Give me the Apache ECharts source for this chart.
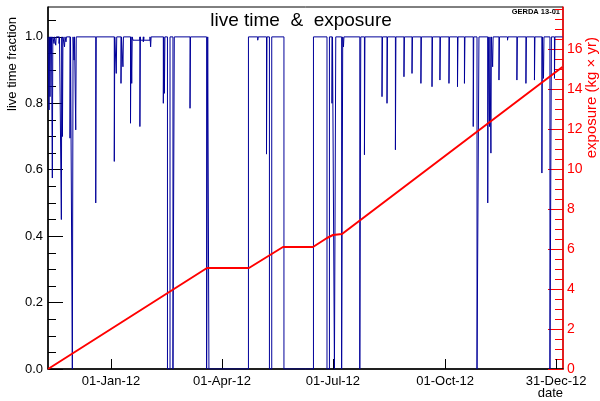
<!DOCTYPE html>
<html><head><meta charset="utf-8">
<script src="https://cdn.jsdelivr.net/npm/echarts@6/dist/echarts.min.js"></script>
<style>html,body{margin:0;padding:0;background:#fff}#c{width:600px;height:401px}</style>
</head><body><div id="c"></div>
<script>
// x values: days since 01-Jan-2012
const axisStartDay = -51.65, axisEndDay = 370.6;
const xTickDays = [0, 91, 182, 274, 365];
const xTickLabels = ['01-Jan-12', '01-Apr-12', '01-Jul-12', '01-Oct-12', '31-Dec-12'];
const liveTicks = [0, 0.2, 0.4, 0.6, 0.8, 1.0];
const exposureTicks = [0, 2, 4, 6, 8, 10, 12, 14, 16];

// live time fraction: 1 everywhere except these intervals
const runStart = -51.6, runEnd = 370.2;
const lowFrom  = [-50.8,-50.0,-49.2,-48.1,-46.7,-45.3,-42.6,-40.7,-39.8,-38.1,-36.9,-33.6,-31.7,-30.3,-28.9,-12.5, 2.7, 4.3, 8.2, 9.8,16.0,17.0,18.0,23.7,24.1,26.5,26.9,32.5,42.9,43.8,46.3,50.8,64.8,78.4, 80.3,120.3,127.5,129.9,141.8,177.1,181.2,183.2,189.1,190.6,204.0,207.8,222.2,226.3,233.2,240.2,246.8,254.1,263.2,269.7,277.1,284.1,289.8,297.0,300.1,308.9,310.3,311.5,312.9,318.1,325.1,332.8,340.2,347.2,353.3,354.6,359.9,363.6];
const lowTo    = [-50.4,-49.6,-48.8,-47.7,-46.3,-44.9,-42.2,-40.3,-39.4,-37.7,-36.5,-33.2,-31.1,-29.9,-28.5,-12.1, 3.1, 4.7, 8.6,10.2,16.4,17.4,23.7,24.1,26.5,26.9,32.0,32.9,43.3,44.2,48.4,51.9,65.2,79.3,112.7,120.7,127.9,131.8,166.0,179.1,181.6,184.3,190.0,191.0,204.8,208.2,222.6,226.7,233.6,240.6,247.2,254.5,263.6,270.1,277.5,284.5,290.2,297.4,301.7,309.3,310.7,311.9,313.3,318.5,325.5,333.2,340.6,347.6,353.7,355.0,361.1,364.0];
const lowValue = [0.78, 0.82, 0.95, 0.575,0.98, 0.975,0.98, 0.45, 0.70, 0.97, 0.985,0.695,0,   0.93, 0.72, 0.50, 0.625,0.89,0.86,0.91,0.74,0.86,0.99,0.73,0.99,0.985,0.99,0.97,0.80,0.83,0,   0,   0.785,0,   0,    0.99, 0.647,0,    0,    0,    0.80, 0,    0,    0.97, 0,    0.645,0.82, 0.80, 0.66, 0.88, 0.89, 0.86, 0.85, 0.87, 0.86, 0.85, 0.86, 0.73, 0,    0.50, 0.73, 0.65, 0.91, 0.87, 0.99, 0.87, 0.86, 0.87, 0.59, 0.875,0,    0.875];

// accumulated exposure (kg x yr)
const exposureDay   = [-51.6, 78.7, 113.1, 141.0, 165.6, 177.1, 182.0, 189.4, 370.1];
const exposureValue = [0, 5.05, 5.05, 6.1, 6.1, 6.55, 6.7, 6.75, 15.1];

const livePts = [[runStart, 1]];
for (let i = 0; i < lowFrom.length; i++) {
  livePts.push([lowFrom[i], 1], [lowFrom[i], lowValue[i]], [lowTo[i], lowValue[i]], [lowTo[i], 1]);
}
livePts.push([runEnd, 1]);
const expPts = exposureDay.map((d, i) => [d, exposureValue[i]]);

const liveMinor = []; for (let k = 0; k <= 21; k++) liveMinor.push(+(k * 0.05).toFixed(2));
const expMinor = []; for (let k = 0; k <= 36; k++) expMinor.push(k * 0.5);

const FF = 'Liberation Sans, Arial, sans-serif';
const chart = echarts.init(document.getElementById('c'), null, {renderer: 'canvas'});
chart.setOption({
  animation: false,
  grid: {left: 48, right: 37, top: 7, bottom: 32, show: true, borderColor: '#000', borderWidth: 1, containLabel: false},
  xAxis: {
    type: 'value', min: axisStartDay, max: axisEndDay,
    axisLine: {onZero: false, lineStyle: {color: '#000', width: 1.5}},
    axisTick: {inside: true, length: 10, customValues: xTickDays, lineStyle: {color: '#000'}},
    axisLabel: {customValues: xTickDays, margin: 6, fontSize: 13, fontFamily: FF, color: '#000',
      formatter: v => { const i = xTickDays.findIndex(t => Math.abs(t - v) < 0.01); return i >= 0 ? xTickLabels[i] : ''; }},
    splitLine: {show: false}
  },
  yAxis: [
    {type: 'value', position: 'left', min: 0, max: 1.09,
     axisLine: {show: true, onZero: false, lineStyle: {color: '#000', width: 1.5}},
     axisTick: {show: true, inside: true, length: 15, customValues: liveTicks, lineStyle: {color: '#000'}},
     axisLabel: {customValues: liveTicks, margin: 5, fontSize: 13, fontFamily: FF, color: '#000', formatter: v => v.toFixed(1)},
     splitLine: {show: false}},
    {type: 'value', position: 'left', min: 0, max: 1.09,
     axisLine: {show: false, onZero: false},
     axisTick: {show: true, inside: true, length: 8, customValues: liveMinor, lineStyle: {color: '#000'}},
     axisLabel: {show: false}, splitLine: {show: false}},
    {type: 'value', position: 'right', min: 0, max: 18.1,
     axisLine: {show: true, onZero: false, lineStyle: {color: '#ff0000', width: 1.5}},
     axisTick: {show: true, inside: true, length: 15, customValues: exposureTicks, lineStyle: {color: '#ff0000'}},
     axisLabel: {customValues: exposureTicks, margin: 4, fontSize: 14, fontFamily: FF, color: '#ff0000', formatter: v => String(Math.round(v))},
     splitLine: {show: false}},
    {type: 'value', position: 'right', min: 0, max: 18.1,
     axisLine: {show: false, onZero: false},
     axisTick: {show: true, inside: true, length: 8, customValues: expMinor, lineStyle: {color: '#ff0000'}},
     axisLabel: {show: false}, splitLine: {show: false}}
  ],
  series: [
    {type: 'line', name: 'live time', xAxisIndex: 0, yAxisIndex: 0, data: livePts, showSymbol: false, symbol: 'none',
     lineStyle: {color: '#000099', width: 1}, z: 2},
    {type: 'line', name: 'exposure', xAxisIndex: 0, yAxisIndex: 2, data: expPts, showSymbol: false, symbol: 'none',
     lineStyle: {color: '#ff0000', width: 2}, z: 3}
  ],
  graphic: [
    {type: 'text', x: 301, y: 21, style: {text: 'live time  &  exposure', fill: '#000', fontSize: 19, fontFamily: FF, align: 'center', verticalAlign: 'middle'}},
    {type: 'text', x: 560, y: 12, style: {text: 'GERDA 13-01', fill: '#000', fontSize: 7.5, fontWeight: 'bold', fontFamily: FF, align: 'right', verticalAlign: 'middle'}},
    {type: 'text', x: 12, y: 17, rotation: Math.PI / 2, style: {text: 'live time fraction', fill: '#000', fontSize: 13, fontFamily: FF, align: 'right', verticalAlign: 'middle'}},
    {type: 'text', x: 592, y: 37, rotation: Math.PI / 2, style: {text: 'exposure (kg \u00d7 yr)', fill: '#ff0000', fontSize: 15, fontFamily: FF, align: 'right', verticalAlign: 'middle'}},
    {type: 'text', x: 563, y: 393, style: {text: 'date', fill: '#000', fontSize: 13, fontFamily: FF, align: 'right', verticalAlign: 'middle'}}
  ]
});
</script></body></html>
